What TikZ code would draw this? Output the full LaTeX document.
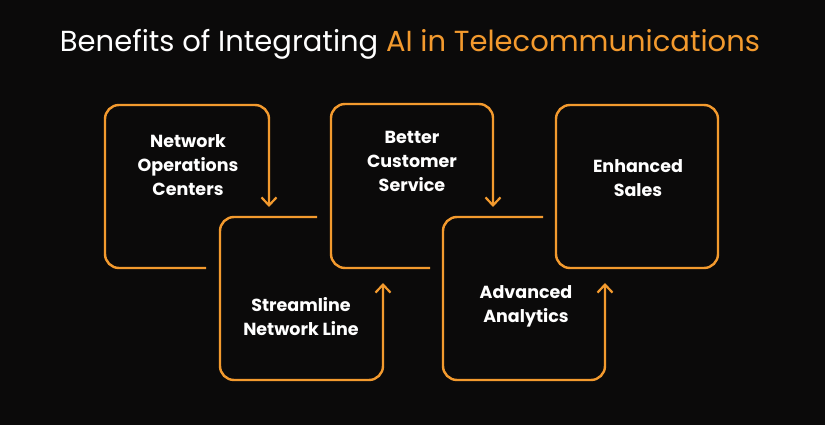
\documentclass[tikz,border=0pt]{standalone}
\usepackage{fontspec}
\setmainfont{Poppins}
\usetikzlibrary{arrows.meta}
\definecolor{aiorange}{HTML}{F39A2E}
\definecolor{bgdark}{HTML}{0B0A0A}

\begin{document}
\begin{tikzpicture}[
            x = 1pt, y = -1pt,
            > = {Straight Barb[length=8pt,width=15pt,line width=2.2pt]}, % open arrow head
            loop/.style = {draw = aiorange, line width = 2.4pt, rounded corners = 14pt},
            label/.style = {text = white, font = \fontsize{17.5}{24}\selectfont\bfseries, align = center}
        ]

        % background
        \fill[bgdark] (0,0) rectangle (825,425);
        \useasboundingbox (0,0) rectangle (825,425);

        \node (title) at (410,44) {\fontsize{29}{34}\selectfont\color{white}Benefits of Integrating \color{aiorange}AI in Telecommunications};

        % open boxes, each ending in an arrow
        \draw[loop, ->] (206,268) -- (105,268) -- (105,105) -- (269,105) -- (269,207);
        \draw[loop, ->] (317,217) -- (220,217) -- (220,380) -- (383,380) -- (383,283);
        \draw[loop, ->] (430,268) -- (331,268) -- (331,104) -- (493,104) -- (493,207);
        \draw[loop, ->] (543,217) -- (443,217) -- (443,380) -- (605,380) -- (605,283);
        \draw[loop] (556,105) rectangle (718,268);

        \node[label] (noc) at (188,165) {Network\\Operations\\Centers};
        \node[label] (snl) at (301,317) {Streamline\\Network Line};
        \node[label] (bcs) at (412,161) {Better\\Customer\\Service};
        \node[label] (aa) at (526,306) {Advanced\\Analytics};
        \node[label] (es) at (638,178) {Enhanced\\Sales};

  \end{tikzpicture}
\end{document}
